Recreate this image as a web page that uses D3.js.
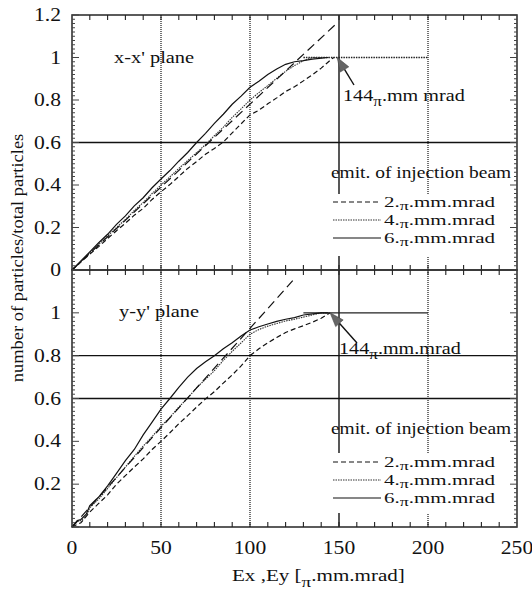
<!DOCTYPE html>
<html>
<head>
<meta charset="utf-8">
<script src="https://cdn.jsdelivr.net/npm/d3@7"></script>
<style>
  body { margin: 0; background: #fff; }
  text { font-family: "Liberation Serif", "Times New Roman", serif; fill: #111; }
</style>
</head>
<body>
<svg id="chart"></svg>
<script>
// Fraction of particles vs emittance, two planes
(() => {

    // --- data ---
    const xTicks = [0, 50, 100, 150, 200, 250];
    const yTicks = [0, 0.2, 0.4, 0.6, 0.8, 1, 1.2];
    const yTicksBottom = [0.2, 0.4, 0.6, 0.8, 1];

    // x-x' plane
    const xx2 = [[0,0],[5,0.037],[10,0.075],[15,0.11],[20,0.148],[25,0.185],[30,0.22],[35,0.258],[40,0.29],[45,0.332],
        [50,0.368],[55,0.402],[60,0.44],[65,0.478],[70,0.51],[75,0.545],[80,0.572],[85,0.602],[90,0.645],[95,0.688],
        [100,0.73],[105,0.752],[110,0.782],[115,0.81],[120,0.84],[125,0.862],[130,0.89],[135,0.918],[140,0.95],[143,0.972],[147,1.0]];
    const xx4 = [[0,0],[5,0.04],[10,0.082],[15,0.12],[20,0.16],[25,0.2],[30,0.238],[35,0.28],[40,0.318],[45,0.36],
        [50,0.4],[55,0.438],[60,0.478],[65,0.515],[70,0.552],[75,0.59],[80,0.632],[85,0.672],[90,0.718],[95,0.758],
        [100,0.8],[105,0.835],[110,0.868],[115,0.902],[120,0.935],[125,0.962],[130,0.985],[135,1.0],[144,1.0]];
    const xx6 = [[0,0],[5,0.043],[10,0.085],[15,0.128],[20,0.168],[25,0.215],[30,0.255],[35,0.302],[40,0.34],[45,0.387],
        [50,0.428],[55,0.468],[60,0.512],[65,0.553],[70,0.6],[75,0.643],[80,0.69],[85,0.733],[90,0.78],[95,0.818],
        [100,0.86],[105,0.888],[110,0.92],[115,0.946],[120,0.968],[125,0.98],[130,0.985],[135,0.992],[144,1.0]];
    const xxRef = [[0,0],[148,1.155]];

    // y-y' plane
    const yy2 = [[0,0],[5,0.02],[10,0.07],[15,0.11],[20,0.15],[25,0.2],[30,0.24],[35,0.28],[40,0.318],[45,0.362],
        [50,0.4],[55,0.44],[60,0.482],[65,0.52],[70,0.56],[75,0.598],[80,0.632],[85,0.672],[90,0.71],[95,0.752],
        [100,0.8],[105,0.832],[110,0.86],[115,0.885],[120,0.908],[125,0.925],[130,0.94],[135,0.956],[140,0.975],[145,1.0]];
    const yy4 = [[0,0],[3,0.025],[5,0.03],[8,0.05],[10,0.09],[15,0.13],[20,0.18],[25,0.23],[30,0.28],[35,0.33],[40,0.378],[45,0.422],
        [50,0.47],[55,0.512],[60,0.56],[65,0.602],[70,0.65],[75,0.69],[80,0.73],[85,0.778],[90,0.82],[95,0.86],
        [100,0.9],[105,0.922],[110,0.938],[115,0.95],[120,0.962],[125,0.97],[130,0.98],[135,0.99],[140,1.0],[144,1.0]];
    const yy6 = [[0,0],[3,0.03],[5,0.035],[8,0.06],[10,0.1],[15,0.14],[20,0.192],[25,0.25],[30,0.31],[35,0.362],[40,0.43],[45,0.49],
        [50,0.55],[55,0.6],[60,0.652],[65,0.7],[70,0.74],[75,0.772],[80,0.8],[85,0.832],[90,0.86],[95,0.892],
        [100,0.92],[105,0.935],[110,0.948],[115,0.96],[120,0.97],[125,0.978],[130,0.99],[140,1.0],[144,1.0]];
    const yyRef = [[0,0],[124,1.15]];

    const legendLabels = ["2.", "4.", "6."];

    // --- layout ---
    const width = 532, height = 594;

    const svg = d3.select("#chart").attr("width", width).attr("height", height);

    const x = d3.scaleLinear().domain([0, 250]).range([72, 517]);
    const yTop = d3.scaleLinear().domain([0, 1.2]).range([270, 15]);
    const yBot = d3.scaleLinear().domain([0, 1.2]).range([527, 270]);

    const styles = {
        s2: {dash: "5,3", w: 1.2, c: "#111"},
        s4: {dash: "1.5,1", w: 1.1, c: "#333"},
        s6: {dash: null, w: 1.2, c: "#111"},
        ref: {dash: "9,5", w: 1.2, c: "#111"}
    };

    // scanned text is wider than normal Times, so stretch it
    function txt(g, px, py, size, anchor, sx) {
        return g.append("text")
            .attr("transform", `translate(${px},${py}) scale(${sx || 1.2},1)`)
            .attr("font-size", size)
            .attr("text-anchor", anchor || "start");
    }

    // text with a lowered pi
    function piText(g, px, py, size, before, after, drop, sx) {
        const t = txt(g, px, py, size, "start", sx);
        t.append("tspan").text(before);
        t.append("tspan").attr("dy", drop).attr("font-size", size * 0.85).text("\u03c0");
        t.append("tspan").attr("dy", -drop).text(after);
        return t;
    }

    function panel(y, series, ref, opts) {
        const g = svg.append("g");
        const [y0, y1] = y.range();

        // grid
        [50, 100, 200].forEach(v => {
            g.append("line").attr("x1", x(v)).attr("x2", x(v)).attr("y1", y0).attr("y2", y1)
                .attr("stroke", "#444").attr("stroke-width", 1.5).attr("stroke-dasharray", "1,1");
        });
        g.append("line").attr("x1", x(150)).attr("x2", x(150)).attr("y1", y0).attr("y2", y1)
            .attr("stroke", "#111").attr("stroke-width", 1.4);
        opts.hSolid.forEach(v => {
            g.append("line").attr("x1", x(0)).attr("x2", x(250)).attr("y1", y(v)).attr("y2", y(v))
                .attr("stroke", "#111").attr("stroke-width", 1.4);
        });
        g.append("line").attr("x1", x(opts.plateauFrom)).attr("x2", x(200)).attr("y1", y(1)).attr("y2", y(1))
            .attr("stroke", "#222").attr("stroke-width", 1.3).attr("stroke-dasharray", opts.plateauDash);

        // curves
        const line = d3.line().x(d => x(d[0])).y(d => y(d[1]));
        const all = [[series[0], styles.s2], [series[1], styles.s4], [series[2], styles.s6], [ref, styles.ref]];
        all.forEach(([data, st]) => {
            g.append("path").attr("d", line(data)).attr("fill", "none")
                .attr("stroke", st.c).attr("stroke-width", st.w)
                .attr("stroke-dasharray", st.dash);
        });

        // legend (white box hides the grid behind it)
        const lg = opts.legend;
        g.append("rect").attr("x", 330).attr("y", lg.boxTop).attr("width", 186).attr("height", lg.boxH)
            .attr("fill", "#fff");
        txt(g, 331, lg.title, 16.2).text("emit. of injection beam");
        [styles.s2, styles.s4, styles.s6].forEach((st, i) => {
            const ly = lg.rows[i];
            g.append("line").attr("x1", 333).attr("x2", 381).attr("y1", ly).attr("y2", ly)
                .attr("stroke", st.c).attr("stroke-width", 1.1)
                .attr("stroke-dasharray", st.dash);
            piText(g, 384, ly + 5, 15, legendLabels[i], ".mm.mrad", 2.5, 1.4);
        });

        // annotation with arrow
        const an = opts.note;
        piText(g, an.tx, an.ty, 16.8, "144", an.rest, 5);
        const tip = [x(an.tipX), y(1)];
        const tail = an.tail;
        const ang = Math.atan2(tail[1] - tip[1], tail[0] - tip[0]);
        const L = 14, Wd = 5;
        const bx = tip[0] + L * Math.cos(ang), by = tip[1] + L * Math.sin(ang);
        g.append("line").attr("x1", tail[0]).attr("y1", tail[1]).attr("x2", bx).attr("y2", by)
            .attr("stroke", "#111").attr("stroke-width", 1.4);
        g.append("path")
            .attr("d", `M${tip[0]},${tip[1]} L${bx + Wd * Math.sin(ang)},${by - Wd * Math.cos(ang)} L${bx - Wd * Math.sin(ang)},${by + Wd * Math.cos(ang)} Z`)
            .attr("fill", "#666").attr("stroke", "#444").attr("stroke-width", 0.6);

        txt(g, opts.nameX, opts.nameY, 17).text(opts.name);

        // frame and ticks
        g.append("rect").attr("x", x(0)).attr("y", y1).attr("width", x(250) - x(0)).attr("height", y0 - y1)
            .attr("fill", "none").attr("stroke", "#333").attr("stroke-width", 1.6);
        d3.range(0, 1.2001, 0.02).forEach(v => {
            const major = Math.abs(v / 0.2 - Math.round(v / 0.2)) < 1e-6;
            const len = major ? 7 : 3;
            g.append("line").attr("x1", x(0)).attr("x2", x(0) + len).attr("y1", y(v)).attr("y2", y(v))
                .attr("stroke", "#444").attr("stroke-width", 1);
            g.append("line").attr("x1", x(250)).attr("x2", x(250) - len).attr("y1", y(v)).attr("y2", y(v))
                .attr("stroke", "#444").attr("stroke-width", 1);
        });
        d3.range(10, 250, 10).forEach(v => {
            g.append("line").attr("x1", x(v)).attr("x2", x(v)).attr("y1", y0).attr("y2", y0 - 5)
                .attr("stroke", "#222").attr("stroke-width", 1.1);
            g.append("line").attr("x1", x(v)).attr("x2", x(v)).attr("y1", y1).attr("y2", y1 + 5)
                .attr("stroke", "#222").attr("stroke-width", 1.1);
        });
        return g;
    }

    panel(yTop, [xx2, xx4, xx6], xxRef, {
        hSolid: [0.6], plateauFrom: 130, plateauDash: "1.5,1",
        legend: {boxTop: 194, boxH: 62, title: 178, rows: [202, 220, 238]},
        note: {tx: 343, ty: 101, rest: ".mm mrad", tipX: 149, tail: [354, 85]},
        name: "x-x' plane", nameX: 114, nameY: 63
    });
    panel(yBot, [yy2, yy4, yy6], yyRef, {
        hSolid: [0.6, 0.8], plateauFrom: 130, plateauDash: null,
        legend: {boxTop: 453, boxH: 60, title: 434, rows: [462, 480, 498]},
        note: {tx: 339, ty: 354, rest: ".mm.mrad", tipX: 145, tail: [357, 343]},
        name: "y-y' plane", nameX: 119, nameY: 317
    });

    // tick labels
    const labels = svg.append("g");
    yTicks.forEach(v => {
        txt(labels, 61, yTop(v) + 6, 18, "end").text(v);
    });
    yTicksBottom.forEach(v => {
        txt(labels, 61, yBot(v) + 6, 18, "end").text(v);
    });
    xTicks.forEach(v => {
        txt(labels, x(v), 554, 18, "middle").text(v);
    });

    // axis titles
    const xt = txt(labels, 232, 581, 17, "start", 1.24);
    xt.append("tspan").text("Ex ,Ey [");
    xt.append("tspan").attr("dy", 6).attr("font-size", 15.5).text("\u03c0");
    xt.append("tspan").attr("dy", -6).text(".mm.mrad]");

    labels.append("text")
        .attr("transform", `translate(23,258) rotate(-90) scale(1.12,1)`)
        .attr("font-size", 16.5)
        .attr("text-anchor", "middle")
        .text("number of particles/total particles");
})();
</script>
</body>
</html>
